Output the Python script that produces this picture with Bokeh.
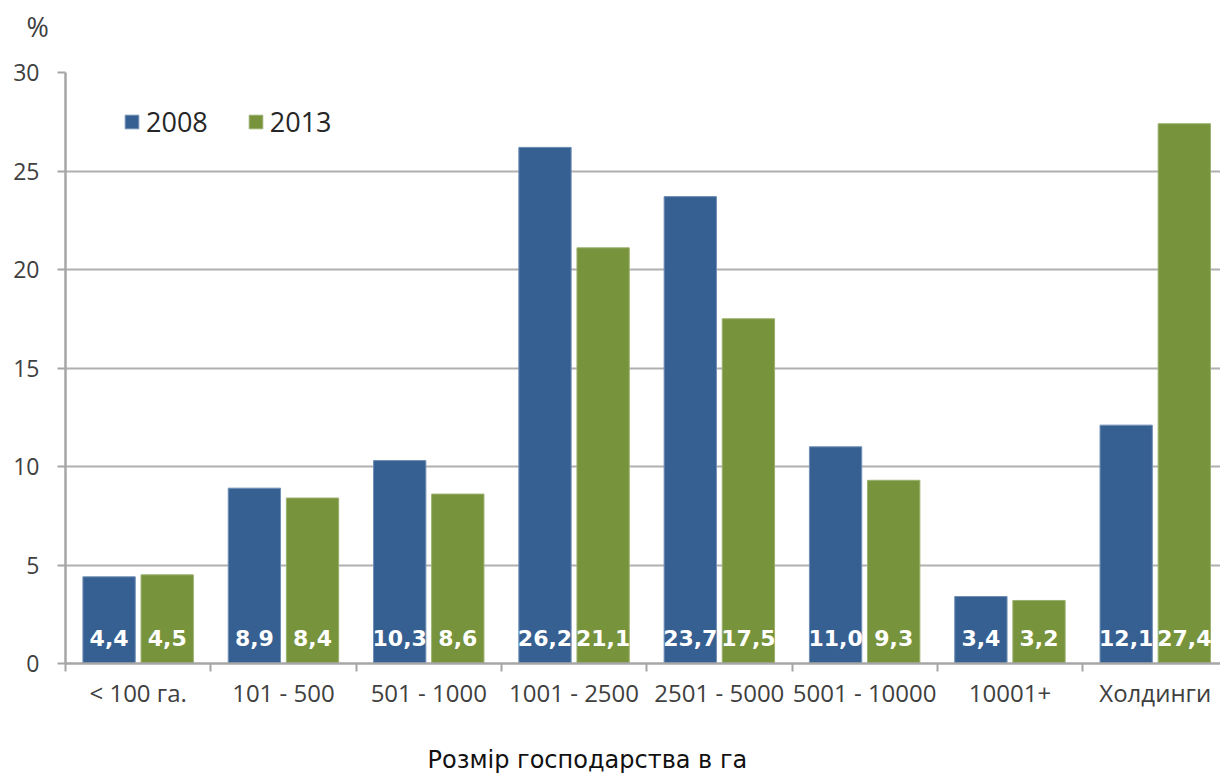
from bokeh.plotting import figure
from bokeh.models import Range1d, FixedTicker, Legend, LegendItem, ColumnDataSource, Title
from bokeh.core.properties import value
from bokeh.embed import file_html
from bokeh.resources import INLINE

categories = ["< 100 га.", "101 - 500", "501 - 1000", "1001 - 2500",
              "2501 - 5000", "5001 - 10000", "10001+", "Холдинги"]
values_2008 = [4.4, 8.9, 10.3, 26.2, 23.7, 11.0, 3.4, 12.1]
values_2013 = [4.5, 8.4, 8.6, 21.1, 17.5, 9.3, 3.2, 27.4]
y_ticks = [0, 5, 10, 15, 20, 25, 30]
series_names = ["2008", "2013"]
x_title = "Розмір господарства в га"
y_unit = "%"

BLUE = "#376092"
GREEN = "#77933C"

def fmt(v):
    return f"{v:.1f}".replace(".", ",")

idx = list(range(len(categories)))
src08 = ColumnDataSource(dict(x=[i + 0.5 - 0.2 for i in idx], top=values_2008,
                              lab=[fmt(v) for v in values_2008], y0=[0] * len(idx)))
src13 = ColumnDataSource(dict(x=[i + 0.5 + 0.2 for i in idx], top=values_2013,
                              lab=[fmt(v) for v in values_2013], y0=[0] * len(idx)))

px_per_cat = 145.3
frame_w = 1220 - 65
p = figure(width=1220, height=774, output_backend="svg", toolbar_location=None,
           x_range=Range1d(0, frame_w / px_per_cat), y_range=Range1d(0, 30),
           min_border_left=65, min_border_right=0, min_border_top=72, min_border_bottom=111)
p.outline_line_color = None
p.background_fill_color = "white"
p.border_fill_color = "white"

r1 = p.vbar(x="x", top="top", width=0.36, source=src08, fill_color=BLUE,
            line_color="#6f8fb5", line_width=1)
r2 = p.vbar(x="x", top="top", width=0.36, source=src13, fill_color=GREEN,
            line_color="#9bb06e", line_width=1)

for s in (src08, src13):
    p.text(x="x", y="y0", text="lab", source=s, text_align="center",
           text_baseline="alphabetic", y_offset=-26, text_color="white",
           text_font=value("DejaVu Sans"), text_font_style="bold", text_font_size="22px")

p.xgrid.visible = False
p.ygrid.ticker = FixedTicker(ticks=y_ticks)
p.ygrid.grid_line_color = "#b0b0b0"
p.ygrid.grid_line_width = 2

xa = p.xaxis[0]
xa.ticker = FixedTicker(ticks=[i + 0.5 for i in idx], minor_ticks=list(range(len(categories) + 1)))
xa.major_label_overrides = {i + 0.5: c for i, c in enumerate(categories)}
xa.major_tick_line_color = None
xa.major_tick_out = 0
xa.major_tick_in = 0
xa.minor_tick_out = 8
xa.minor_tick_in = 0
xa.minor_tick_line_color = "#a6a6a6"
xa.minor_tick_line_width = 2
xa.axis_line_color = "#a6a6a6"
xa.axis_line_width = 2.5
xa.major_label_standoff = 4
xa.major_label_text_font = "Open Sans"
xa.major_label_text_font_size = "24px"
xa.major_label_text_color = "#404040"

ya = p.yaxis[0]
ya.ticker = FixedTicker(ticks=y_ticks)
ya.major_tick_out = 8
ya.major_tick_in = 0
ya.minor_tick_line_color = None
ya.major_tick_line_color = "#a6a6a6"
ya.major_tick_line_width = 2
ya.axis_line_color = "#a6a6a6"
ya.axis_line_width = 2.5
ya.major_label_standoff = 18
ya.major_label_text_font = "Open Sans"
ya.major_label_text_font_size = "23px"
ya.major_label_text_color = "#404040"

legend = Legend(items=[LegendItem(label=series_names[0], renderers=[r1]),
                       LegendItem(label=series_names[1], renderers=[r2])],
                orientation="horizontal", location=(58, 523),
                background_fill_alpha=0, border_line_color=None,
                glyph_width=17, glyph_height=17, label_standoff=6, spacing=39,
                padding=0, margin=0,
                label_text_font="Open Sans", label_text_font_size="27px",
                label_text_color="#262626")
p.add_layout(legend)


def spacer(size):
    # blank panel item that only reserves vertical room
    return Title(text=" ", text_font_size="1px", standoff=max(size - 3, 0),
                 text_color="white")


# top: spacer nearest the frame, then the unit title
p.add_layout(spacer(24), "above")
p.add_layout(Title(text=y_unit, align="left", offset=-39, standoff=8,
                   text_font="Open Sans", text_font_size="27px", text_color="#404040",
                   text_font_style="normal"), "above")

# bottom: x axis, spacer, then axis title
p.add_layout(spacer(32), "below")
p.add_layout(Title(text=x_title, align="left", offset=362, standoff=0,
                   text_font="DejaVu Sans", text_font_size="24px", text_color="#111111",
                   text_font_style="normal"), "below")

open("out.html", "w").write(file_html(p, INLINE))
